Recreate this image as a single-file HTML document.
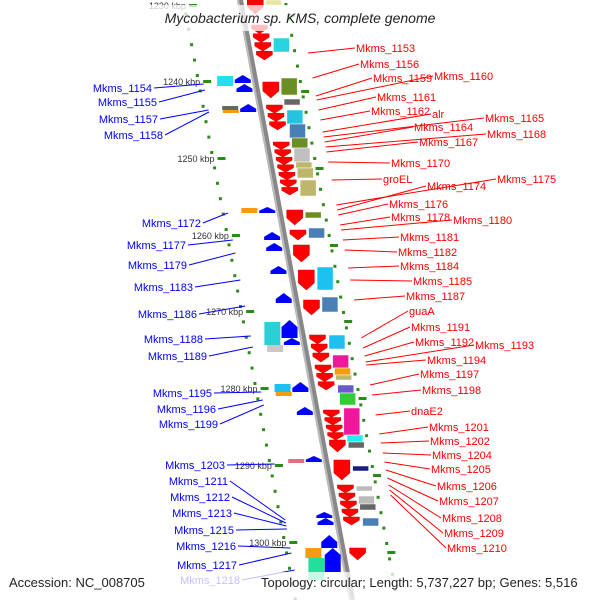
<!DOCTYPE html>
<html><head><meta charset="utf-8"><style>
html,body{margin:0;padding:0;background:#fff}
svg{display:block;font-family:"Liberation Sans","DejaVu Sans",sans-serif}
</style></head><body>
<svg id="map" width="600" height="600" viewBox="0 0 600 600">
<line x1="240" y1="0" x2="352" y2="600" stroke="#888" stroke-width="6"/>
<line x1="238" y1="0" x2="350" y2="600" stroke="#bbb" stroke-width="2"/>
<g id="feat"></g>
<g id="lbl"></g>
<rect x="0" y="5" width="600" height="26" fill="#fff" opacity="0.75"/>
<rect x="0" y="572" width="600" height="28" fill="#fff" opacity="0.75"/>
<text x="300" y="23" text-anchor="middle" font-size="14" font-style="italic" fill="#222">Mycobacterium sp. KMS, complete genome</text>
<text x="9" y="587" font-size="13" fill="#222">Accession: NC_008705</text>
<text x="261" y="587" font-size="13" fill="#222">Topology: circular; Length: 5,737,227 bp; Genes: 5,516</text>
</svg>
<script>
const NS="http://www.w3.org/2000/svg";
const bx=y=>240+0.187*y;
const rightLabels=[["Mkms_1153",356,52,53],["Mkms_1156",360,68,78],["Mkms_1159",373,82,96],["Mkms_1160",434,80,100],["Mkms_1161",377,101,110],["Mkms_1162",371,115,120],["alr",432,118,132],["Mkms_1165",485,122,137],["Mkms_1164",414,131,142],["Mkms_1168",487,138,147],["Mkms_1167",419,146,152],["Mkms_1170",391,167,162],["groEL",383,183,180],["Mkms_1174",427,190,210],["Mkms_1175",497,183,205],["Mkms_1176",389,208,215],["Mkms_1178",391,221,225],["Mkms_1180",453,224,230],["Mkms_1181",400,241,240],["Mkms_1182",398,256,250],["Mkms_1184",400,270,268],["Mkms_1185",413,285,280],["Mkms_1187",406,300,300],["guaA",409,315,338],["Mkms_1191",411,331,348],["Mkms_1192",415,346,356],["Mkms_1193",475,349,362],["Mkms_1194",427,364,365],["Mkms_1197",420,378,385],["Mkms_1198",422,394,395],["dnaE2",411,415,415],["Mkms_1201",429,431,434],["Mkms_1202",430,445,443],["Mkms_1204",432,459,453],["Mkms_1205",431,473,462],["Mkms_1206",437,490,470],["Mkms_1207",439,505,478],["Mkms_1208",442,522,485],["Mkms_1209",444,537,490],["Mkms_1210",447,552,495]];
const leftLabels=[["Mkms_1154",152,92,84],["Mkms_1155",157,106,90],["Mkms_1157",158,123,110],["Mkms_1158",163,139,112],["Mkms_1172",201,227,213],["Mkms_1177",186,249,240],["Mkms_1179",187,269,253],["Mkms_1183",193,291,280],["Mkms_1186",197,318,306],["Mkms_1188",203,343,336],["Mkms_1189",207,360,347],["Mkms_1195",212,397,392],["Mkms_1196",216,413,400],["Mkms_1199",218,428,405],["Mkms_1203",225,469,464],["Mkms_1211",228,485,520],["Mkms_1212",230,501,523],["Mkms_1213",232,517,526],["Mkms_1215",234,534,529],["Mkms_1216",236,550,548],["Mkms_1217",237,569,553],["Mkms_1218",240,584,570]];
const kbpLabels=["1230 kbp","1240 kbp","1250 kbp","1260 kbp","1270 kbp","1280 kbp","1290 kbp","1300 kbp"];
const kbpY=[5,81,158,235,311,388,465,542];
const redArrows=[[0,14],[25,60],[82,98],[105,130],[142,195],[210,225],[230,240],[245,262],[270,290],[300,315],[335,362],[365,390],[410,440],[440,452],[460,480],[485,525],[548,560]];
const rBoxes=[[38,52,"#29d3df"],[78,95,"#6b8e23"],[99,105,"#666"],[110,124,"#22c5dd"],[124,138,"#4a7fb5"],[138,148,"#6b8e23"],[148,162,"#c0c0c0"],[162,168,"#bdb76b"],[168,178,"#bdb76b"],[180,196,"#bdb76b"],[212,218,"#6b8e23"],[228,238,"#4a7fb5"],[267,290,"#1ec0f0"],[297,312,"#4a7fb5"],[335,349,"#1ec0f0"],[355,368,"#f0189a"],[368,375,"#f39c12"],[375,380,"#bdb76b"],[385,393,"#6a5acd"],[393,405,"#32cd32"],[408,435,"#f0189a"],[435,442,"#22eeee"],[442,448,"#666"],[466,471,"#1a1a80"],[486,491,"#bbb"],[496,504,"#bbb"],[504,510,"#666"],[518,526,"#4a7fb5"],[0,5,"#e6e6a0"]];
const lBoxes=[[76,86,"#22e0ee"],[106,110,"#666"],[110,113,"#f39c12"],[208,213,"#f39c12"],[322,345,"#2ccfd6"],[345,352,"#c8c8c8"],[384,392,"#1ec0f0"],[392,396,"#f39c12"],[459,463,"#e07080"],[548,558,"#f39c12"],[558,580,"#22e09a"]];
const blueArrows=[[75,83],[84,92],[104,112],[207,213],[232,240],[243,251],[266,274],[293,303],[320,338],[338,345],[382,392],[407,415],[456,462],[512,518],[518,525],[535,548],[548,572]];
function mk(tag,a,p){const e=document.createElementNS(NS,tag);for(const k in a)e.setAttribute(k,a[k]);(p||F).appendChild(e);return e;}
const F=document.getElementById("feat"),L=document.getElementById("lbl");
for(let y=-3;y<600;y+=15.4){const a=mk("rect",{x:bx(y)-58,y:y,width:3,height:3,fill:"#2a8a1a"});
const b=mk("rect",{x:bx(y)+45,y:y+6,width:3,height:3,fill:"#2a8a1a"});}
kbpLabels.forEach((t,i)=>{const y=kbpY[i];
const d=mk("rect",{x:bx(y)-52,y:y-1,width:8,height:3,fill:"#2a8a1a"});
const d2=mk("rect",{x:bx(y)+46,y:y+9,width:8,height:3,fill:"#2a8a1a"});
const tx=mk("text",{x:bx(y)-55,y:y+4,"font-size":"9","text-anchor":"end",fill:"#333"});tx.textContent=t;});
redArrows.forEach(([a,b])=>{const n=(b-a)>22?Math.round((b-a)/8):1,h=(b-a)/n;
for(let i=0;i<n;i++){const s=a+i*h,e=s+h,c=bx((s+e)/2)+14,w=8,tip=Math.min(7,h*0.6);
const p=mk("polygon",{points:`${c-w},${s} ${c+w},${s} ${c+w},${e-tip} ${c},${e} ${c-w},${e-tip}`,fill:"#f00",stroke:"#c00","stroke-width":"0.5"});}});
rBoxes.forEach(([a,b,col])=>{const x=bx((a+b)/2)+25;const r=mk("rect",{x:x,y:a,width:16,height:b-a,fill:col,stroke:"#fff","stroke-width":"0.5"});});
lBoxes.forEach(([a,b,col])=>{const x=bx((a+b)/2)-38;const r=mk("rect",{x:x,y:a,width:16,height:b-a,fill:col});});
blueArrows.forEach(([a,b])=>{const c=bx((a+b)/2)-12,w=8,tip=Math.min(7,(b-a)*0.6);
const p=mk("polygon",{points:`${c},${a} ${c+w},${a+tip} ${c+w},${b} ${c-w},${b} ${c-w},${a+tip}`,fill:"#00f"});});
rightLabels.forEach(([t,x,y,fy])=>{const l=mk("line",{x1:bx(fy)+58,y1:fy,x2:x-1,y2:y-4,stroke:"#f00","stroke-width":"1"},L);
const tx=mk("text",{x:x,y:y,"font-size":"11",fill:"#f00"},L);tx.textContent=t;});
leftLabels.forEach(([t,x,y,fy])=>{const l=mk("line",{x1:x+2,y1:y-4,x2:bx(fy)-52,y2:fy,stroke:"#00f","stroke-width":"1"},L);
const tx=mk("text",{x:x,y:y,"font-size":"11",fill:"#00f","text-anchor":"end"},L);tx.textContent=t;});
</script>
</body></html>
